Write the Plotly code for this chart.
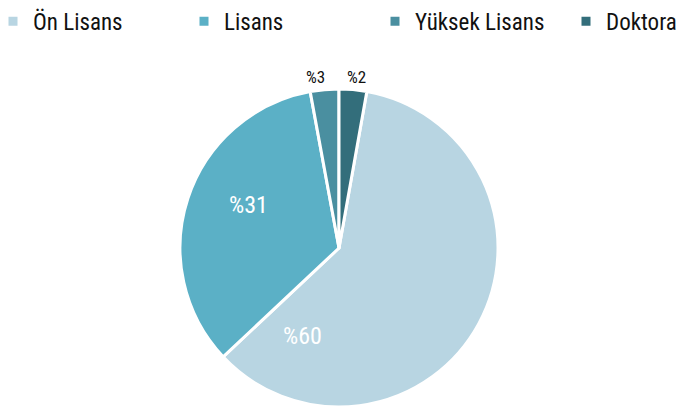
import plotly.graph_objects as go

categories = ["Ön Lisans", "Lisans", "Yüksek Lisans", "Doktora"]
values = [60.2, 34.1, 2.9, 2.8]
label_texts = ["%60", "%31", "%3", "%2"]
colors = ["#b8d5e2", "#5bb0c6", "#4a8fa0", "#336e7b"]

FONT = "Roboto Condensed, Liberation Sans Narrow, DejaVu Sans Condensed, Arial Narrow, sans-serif"

W, H = 780, 412   # canvas wider than the window so the one-row legend can spread out
OFF = 8           # page body margin in the browser

# pie geometry in screen pixels
CX, CY, R = 339, 248, 159
fx, fy = CX - OFF, CY - OFF

fig = go.Figure(go.Pie(
    labels=categories,
    values=values,
    sort=False,
    direction="clockwise",
    rotation=values[3] * 3.6,
    marker=dict(colors=colors, line=dict(color="white", width=3)),
    textinfo="none",
    hoverinfo="label+percent",
    domain=dict(x=[(fx - R) / W, (fx + R) / W], y=[1 - (fy + R) / H, 1 - (fy - R) / H]),
))

# label positions (pixel centres as seen on screen) and styles
label_pos = [(302, 336), (248, 205), (315, 77), (356, 77)]
label_col = ["white", "white", "#111111", "#111111"]
label_size = [24, 24, 17, 17]
for t, (px, py), c, s in zip(label_texts, label_pos, label_col, label_size):
    fig.add_annotation(x=(px - OFF) / W, y=1 - (py - OFF) / H, xref="paper", yref="paper",
                       xanchor="center", yanchor="middle",
                       text=t, showarrow=False, font=dict(color=c, size=s, family=FONT))

fig.update_layout(
    width=W, height=H,
    margin=dict(l=0, r=0, t=0, b=0, autoexpand=False),
    paper_bgcolor="white",
    plot_bgcolor="white",
    font=dict(family=FONT, color="#111111"),
    legend=dict(orientation="h", xref="paper", yref="paper",
                x=-15 / W, xanchor="left", y=1.02, yanchor="top",
                font=dict(size=23, family=FONT, color="#111111"),
                entrywidth=146, itemwidth=30, tracegroupgap=0),
)

fig.write_html("out.html")
